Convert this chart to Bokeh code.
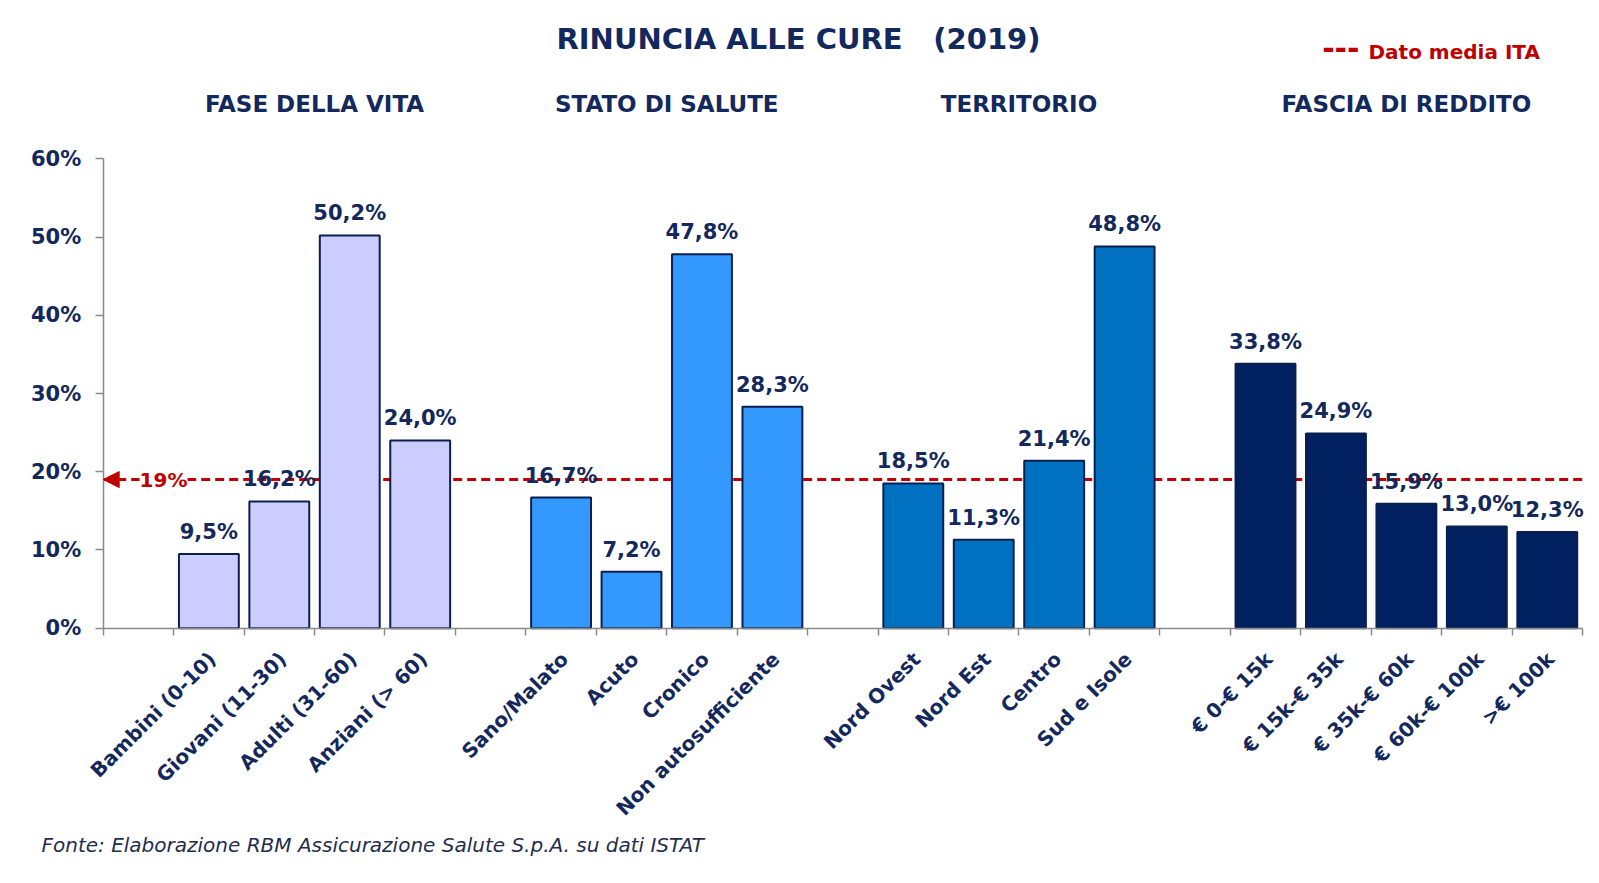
import numpy as np
from bokeh.plotting import figure
from bokeh.models import (ColumnDataSource, Range1d, FixedTicker, PrintfTickFormatter,
                          LabelSet, Label, Arrow, NormalHead)
from bokeh.core.properties import value
from bokeh.embed import file_html
from bokeh.resources import INLINE

# ---------------- data ----------------
title_main = "RINUNCIA ALLE CURE"
title_year = "(2019)"
legend_mark = "---"
legend_text = "Dato media ITA"
source_note = "Fonte: Elaborazione RBM Assicurazione Salute S.p.A. su dati ISTAT"

group_names = ["FASE DELLA VITA", "STATO DI SALUTE", "TERRITORIO", "FASCIA DI REDDITO"]

fase_labels = ["Bambini (0-10)", "Giovani (11-30)", "Adulti (31-60)", "Anziani (> 60)"]
fase_values = [9.5, 16.2, 50.2, 24.0]

stato_labels = ["Sano/Malato", "Acuto", "Cronico", "Non autosufficiente"]
stato_values = [16.7, 7.2, 47.8, 28.3]

terr_labels = ["Nord Ovest", "Nord Est", "Centro", "Sud e Isole"]
terr_values = [18.5, 11.3, 21.4, 48.8]

reddito_labels = ["€ 0-€ 15k", "€ 15k-€ 35k", "€ 35k-€ 60k", "€ 60k-€ 100k", ">€ 100k"]
reddito_values = [33.8, 24.9, 15.9, 13.0, 12.3]

media_ita = 19
y_ticks = [0, 10, 20, 30, 40, 50, 60]
y_max = 60

group_colors = ["#CCCCFF", "#3399FF", "#0070C0", "#002060"]

# ---------------- styles / layout ----------------
NAVY = "#13285C"
RED = "#C00000"
GRAY = "#8A8A8A"
FONT_NAME = "DejaVu Sans"
FONT = value(FONT_NAME)

W, H = 1596, 880
AX_LEFT, AX_RIGHT = 102.7, 1582.0      # pixel x of the category axis ends
AX_ZERO, AX_TOP = 627.7, 158.3         # pixel y of 0% and 60%

# ---------------- build slots (one empty slot before each group) ----------------
all_groups = [(fase_labels, fase_values), (stato_labels, stato_values),
              (terr_labels, terr_values), (reddito_labels, reddito_values)]
xs, tops, labs, cols, texts, group_centers = [], [], [], [], [], []
pos = 0
for (labs_g, vals_g), color in zip(all_groups, group_colors):
    pos += 1
    start = pos
    for l, v in zip(labs_g, vals_g):
        xs.append(pos + 0.5)
        tops.append(v)
        labs.append(l)
        cols.append(color)
        texts.append(f"{v:.1f}".replace(".", ",") + "%")
        pos += 1
    group_centers.append((start + pos) / 2)
n_slots = pos

SX = (AX_RIGHT - AX_LEFT) / n_slots
SY = (AX_ZERO - AX_TOP) / y_max


def px_x(px):
    return (px - AX_LEFT) / SX


def px_y(py):
    return (AX_ZERO - py) / SY


src = ColumnDataSource(dict(x=xs, top=tops, lab=labs, color=cols, txt=texts))

p = figure(width=W, height=H,
           x_range=Range1d(px_x(0), px_x(W)), y_range=Range1d(px_y(H), px_y(0)),
           output_backend="svg", toolbar_location=None, min_border=0)
p.min_border_left = p.min_border_right = p.min_border_top = p.min_border_bottom = 0
p.outline_line_color = None
p.xgrid.visible = False
p.ygrid.visible = False
p.background_fill_color = "white"
p.border_fill_color = "white"

# average line (under bars)
p.line(x=[0, n_slots], y=[media_ita, media_ita], line_color=RED, line_width=3,
       line_dash="9 5")

# bars
p.vbar(x="x", top="top", bottom=0, width=0.85, fill_color="color",
       line_color="#0B1F4F", line_width=2, source=src)

# y axis (fixed at x = 0)
p.yaxis.fixed_location = 0
p.yaxis.bounds = (0, y_max)
p.yaxis.ticker = FixedTicker(ticks=y_ticks, minor_ticks=[])
p.yaxis.formatter = PrintfTickFormatter(format="%d%%")
p.yaxis.major_label_text_font = FONT_NAME
p.yaxis.major_label_text_font_size = "21px"
p.yaxis.major_label_text_font_style = "bold"
p.yaxis.major_label_text_color = NAVY
p.yaxis.axis_line_color = GRAY
p.yaxis.axis_line_width = 1.5
p.yaxis.major_tick_line_color = GRAY
p.yaxis.major_tick_line_width = 1.5
p.yaxis.major_tick_out = 8
p.yaxis.major_tick_in = 0
p.yaxis.minor_tick_line_color = None
p.yaxis.major_label_standoff = 14

# x axis (fixed at y = 0): ticks at slot boundaries, labels drawn rotated below
bounds = list(range(n_slots + 1))
p.xaxis.fixed_location = 0
p.xaxis.bounds = (0, n_slots)
p.xaxis.ticker = FixedTicker(ticks=bounds, minor_ticks=[])
p.xaxis.major_label_overrides = {b: "" for b in bounds}
p.xaxis.axis_line_color = GRAY
p.xaxis.axis_line_width = 1.5
p.xaxis.major_tick_line_color = GRAY
p.xaxis.major_tick_line_width = 1.5
p.xaxis.major_tick_out = 7
p.xaxis.major_tick_in = 0
p.xaxis.minor_tick_line_color = None

# value labels
p.add_layout(LabelSet(x="x", y="top", text="txt", source=src, text_align="center",
                      text_baseline="middle", y_offset=22, text_font=FONT,
                      text_font_size="21px", text_font_style="bold", text_color=NAVY))

# rotated category labels
p.add_layout(LabelSet(x="x", y=0, text="lab", source=src, angle=np.pi / 4,
                      text_align="right", text_baseline="top", x_offset=-5, y_offset=-19,
                      text_font=FONT, text_font_size="20px", text_font_style="bold",
                      text_color=NAVY))

# average arrow + label
p.add_layout(Arrow(end=NormalHead(size=16, fill_color=RED, line_color=RED),
                   x_start=0.35, y_start=media_ita, x_end=0, y_end=media_ita,
                   line_alpha=0))
p.add_layout(Label(x=px_x(163), y=media_ita, text=f"{media_ita}%", text_align="center",
                   text_baseline="middle", y_offset=0, text_color=RED,
                   text_font=FONT_NAME, text_font_size="20px", text_font_style="bold",
                   background_fill_color="white"))

# group headings
for name, gx in zip(group_names, group_centers):
    p.add_layout(Label(x=gx, y=px_y(103), text=name, text_align="center",
                       text_baseline="middle", text_font=FONT_NAME, text_font_size="23px",
                       text_font_style="bold", text_color=NAVY))

# title
p.add_layout(Label(x=px_x(556), y=px_y(38), text=title_main, text_align="left",
                   text_baseline="middle", text_font=FONT_NAME, text_font_size="29px",
                   text_font_style="bold", text_color=NAVY))
p.add_layout(Label(x=px_x(1040), y=px_y(38), text=title_year, text_align="right",
                   text_baseline="middle", text_font=FONT_NAME, text_font_size="29px",
                   text_font_style="bold", text_color=NAVY))

# legend
p.add_layout(Label(x=px_x(1359), y=px_y(47), text=legend_mark, text_align="right",
                   text_baseline="middle", text_font=FONT_NAME, text_font_size="30px",
                   text_font_style="bold", text_color=RED))
p.add_layout(Label(x=px_x(1368), y=px_y(51), text=legend_text, text_align="left",
                   text_baseline="middle", text_font=FONT_NAME, text_font_size="20px",
                   text_font_style="bold", text_color=RED))

# source note
p.add_layout(Label(x=px_x(41), y=px_y(844), text=source_note, text_align="left",
                   text_baseline="middle", text_font=FONT_NAME, text_font_size="20px",
                   text_font_style="italic", text_color="#1F2D4F"))

open("out.html", "w").write(file_html(p, INLINE))
